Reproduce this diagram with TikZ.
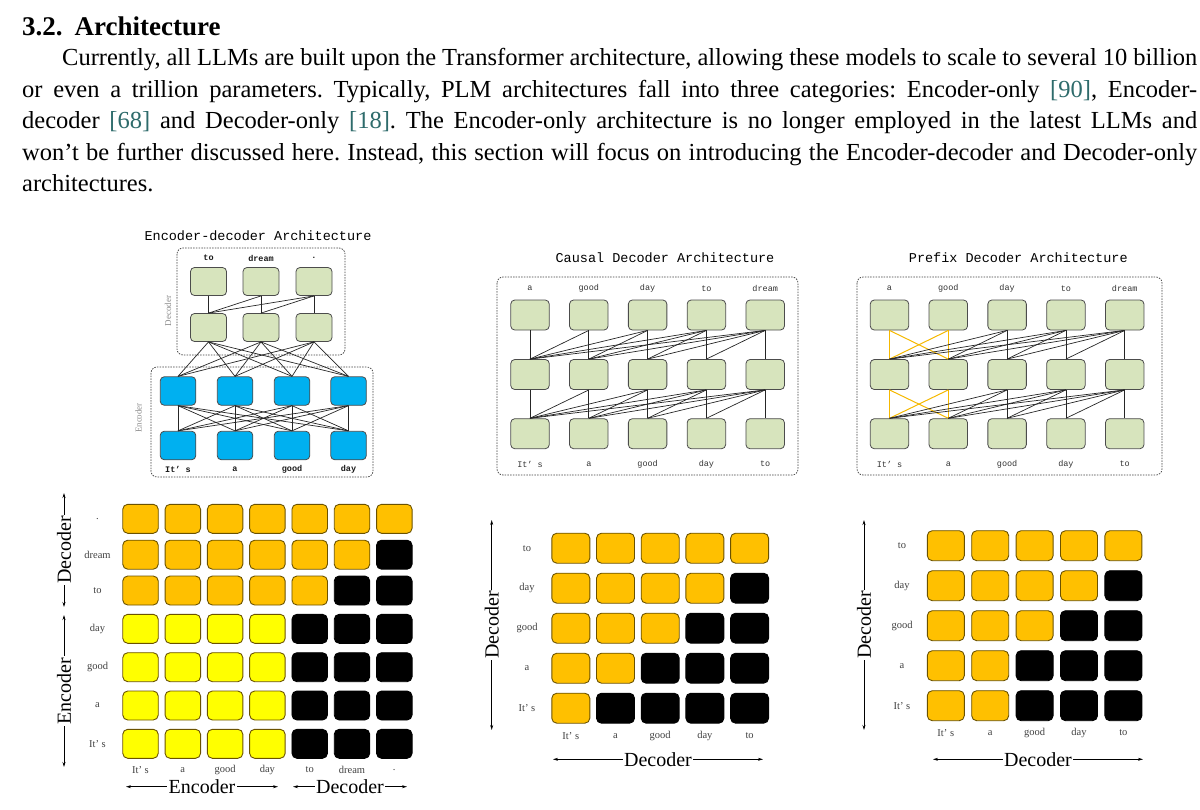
\documentclass[tikz,border=0pt]{standalone}
\usepackage{fontspec}
\setmainfont{Liberation Serif}
\newfontfamily\monofont{Liberation Mono}
\usetikzlibrary{arrows.meta}
\definecolor{citeteal}{HTML}{2E6B6B}
\definecolor{archgreen}{HTML}{D7E4BD}
\definecolor{encblue}{HTML}{00B0F0}
\definecolor{decorange}{HTML}{FFC000}
\definecolor{encyellow}{HTML}{FFFF00}
\definecolor{celledge}{HTML}{6B5200}
\definecolor{prefixline}{HTML}{F5B800}
\newcommand{\cit}[1]{\textcolor{citeteal}{[#1]}}
\frenchspacing

\begin{document}
\begin{tikzpicture}[x=1pt, y=-1pt, every node/.style={inner sep=0pt},
    bodytext/.style={anchor=base west, font=\fontsize{24.5}{31}\selectfont},
    archtitle/.style={font=\monofont\fontsize{13.5}{15}\selectfont},
    word/.style={font=\monofont\fontsize{8.5}{10}\selectfont, text=black!80},
    edword/.style={word, font=\monofont\bfseries\fontsize{8.5}{10}\selectfont, text=black!90},
    sidelabel/.style={rotate=90, font=\fontsize{9}{10}\selectfont, text=black!45},
    frame/.style={draw=black!75, line width=0.7pt, dash pattern=on 1.5pt off 1.2pt, rounded corners=6pt},
    archbox/.style={draw=black!70, line width=0.8pt, rounded corners=4pt, fill=archgreen, minimum width=38.5pt, minimum height=30pt},
    encbox/.style={archbox, fill=encblue, minimum width=35.5pt, minimum height=28.5pt},
    link/.style={draw=black!85, line width=0.7pt},
    prefixlink/.style={draw=prefixline, line width=1pt},
    cell/.style={line width=0.9pt, rounded corners=5pt},
    tick/.style={font=\fontsize{10.5}{12}\selectfont, text=black!75},
    axisarrow/.style={{Stealth[length=5pt, width=3pt]}-{Stealth[length=5pt, width=3pt]}, line width=0.8pt},
    axislabel/.style={fill=white, inner sep=1.5pt, font=\fontsize{20}{22}\selectfont}]
  \useasboundingbox (0,0) rectangle (1200,809);

  % section text
  \node[anchor=base west, font=\fontsize{27}{30}\selectfont\bfseries] (heading) at (22,35.5) {3.2.\hspace{12pt}Architecture};
  \node[bodytext] (line1) at (62,65.5) {\makebox[1135pt][s]{Currently, all LLMs are built upon the Transformer architecture, allowing these models to scale to several 10 billion}};
  \node[bodytext] (line2) at (22,97) {\makebox[1175pt][s]{or even a trillion parameters. Typically, PLM architectures fall into three categories: Encoder-only \cit{90}, Encoder-}};
  \node[bodytext] (line3) at (22,128.5) {\makebox[1175pt][s]{decoder \cit{68} and Decoder-only \cit{18}. The Encoder-only architecture is no longer employed in the latest LLMs and}};
  \node[bodytext] (line4) at (22,160) {\makebox[1175pt][s]{won’t be further discussed here. Instead, this section will focus on introducing the Encoder-decoder and Decoder-only}};
  \node[bodytext] (line5) at (22,191.5) {architectures.};

  % encoder-decoder architecture
  \node[archtitle] (edtitle) at (258,236) {Encoder-decoder Architecture};
  \draw[frame] (177,248) rectangle (345,355);
  \draw[frame] (151,367) rectangle (373,477);
  \node[sidelabel] (declabel) at (168,311) {Decoder};
  \node[sidelabel] (enclabel) at (138.5,418) {Encoder};
  \foreach \x/\w [count=\i] in {208.5/to, 261/dream, 314/.} {
    \node[archbox, minimum width=36pt, minimum height=28pt] (dt\i) at (\x,281.5) {};
    \node[archbox, minimum width=36pt, minimum height=28pt] (db\i) at (\x,327.5) {};
    \node[edword] (dw\i) at (\x,258) {\w};
  }
  \foreach \x/\w [count=\i] in {178/It’ s, 235/a, 292/good, 348.5/day} {
    \node[encbox] (et\i) at (\x,391) {};
    \node[encbox] (eb\i) at (\x,445.5) {};
    \node[edword] (ew\i) at (\x,469) {\w};
  }
  \foreach \i in {1,2,3}
    \foreach \j in {1,...,\i}
      \draw[link] (dt\i.south) -- (db\j.north);
  \foreach \i in {1,2,3}
    \foreach \j in {1,...,4}
      \draw[link] (db\i.south) -- (et\j.north);
  \foreach \i in {1,...,4}
    \foreach \j in {1,...,4}
      \draw[link] (et\i.south) -- (eb\j.north);

  % causal decoder architecture
  \node[archtitle] (cdtitle) at (665,257.7) {Causal Decoder Architecture};
  \draw[frame] (497,277) rectangle (798,475);
  \foreach \x/\t/\b [count=\i] in {530/a/It’ s, 588.8/good/a, 647.6/day/good, 706.4/to/day, 765.2/dream/to} {
    \node[archbox] (ca\i) at (\x,315) {};
    \node[archbox] (cb\i) at (\x,374.5) {};
    \node[archbox] (cc\i) at (\x,433.7) {};
    \node[word] (cat\i) at (\x,288.5) {\t};
    \node[word] (cab\i) at (\x,464) {\b};
  }
  \foreach \i in {1,...,5}
    \foreach \j in {1,...,\i} {
      \draw[link] (ca\i.south) -- (cb\j.north);
      \draw[link] (cb\i.south) -- (cc\j.north);
    }

  % prefix decoder architecture
  \node[archtitle] (pdtitle) at (1018.3,257.7) {Prefix Decoder Architecture};
  \draw[frame] (857,277) rectangle (1162,475);
  \foreach \x/\t/\b [count=\i] in {889.5/a/It’ s, 948.3/good/a, 1007.1/day/good, 1065.9/to/day, 1124.7/dream/to} {
    \node[archbox] (pa\i) at (\x,315) {};
    \node[archbox] (pb\i) at (\x,374.5) {};
    \node[archbox] (pc\i) at (\x,433.7) {};
    \node[word] (pat\i) at (\x,288.5) {\t};
    \node[word] (pab\i) at (\x,464) {\b};
  }
  \foreach \i in {1,2}
    \foreach \j in {1,2} {
      \draw[prefixlink] (pa\i.south) -- (pb\j.north);
      \draw[prefixlink] (pb\i.south) -- (pc\j.north);
    }
  \foreach \i in {3,4,5}
    \foreach \j in {1,...,\i} {
      \draw[link] (pa\i.south) -- (pb\j.north);
      \draw[link] (pb\i.south) -- (pc\j.north);
    }

  % encoder-decoder attention mask
  \foreach \y/\w [count=\row] in {743.8/It’ s, 705.5/a, 667.2/good, 628.8/day, 590.5/to, 554.7/dream, 518.8/.} {
    \node[tick] (ma\row) at (97.5,\y) {\w};
    \foreach \x [count=\col] in {140.5,182.8,225.1,267.4,309.7,352,394.3} {
      \ifnum\row<5
        \ifnum\col<5 \def\cf{encyellow}\def\ce{celledge}\else\def\cf{black}\def\ce{black}\fi
      \else
        \ifnum\col>\row \def\cf{black}\def\ce{black}\else\def\cf{decorange}\def\ce{celledge}\fi
      \fi
      \node[cell, fill=\cf, draw=\ce, minimum width=35.5pt, minimum height=29pt] (ma\row-\col) at (\x,\y) {};
    }
  }
  \foreach \x/\w [count=\col] in {140.5/It’ s, 182.8/a, 225.1/good, 267.4/day, 309.7/to, 352/dream, 394.3/.}
    \node[tick] (mac\col) at (\x,770) {\w};
  \coordinate (maxa) at (126,786.7);
  \coordinate (maxb) at (278,786.7);
  \coordinate (maxc) at (293,786.7);
  \coordinate (maxd) at (407,786.7);
  \draw[axisarrow] (maxa) -- (maxb) node[axislabel, midway] (maxenc) {Encoder};
  \draw[axisarrow] (maxc) -- (maxd) node[axislabel, midway] (maxdec) {Decoder};
  \coordinate (maya) at (64,493);
  \coordinate (mayb) at (64,607);
  \coordinate (mayc) at (64,615);
  \coordinate (mayd) at (64,767);
  \draw[axisarrow] (maya) -- (mayb) node[axislabel, midway, rotate=90] (maydec) {Decoder};
  \draw[axisarrow] (mayc) -- (mayd) node[axislabel, midway, rotate=90] (mayenc) {Encoder};

  % causal decoder attention mask
  \foreach \w [count=\row] in {It’ s, a, good, day, to} {
    \node[tick] (mb\row) at (527,748.2-40*\row) {\w};
    \foreach \x [count=\col] in {570.8,615.5,660.2,704.9,749.6} {
      \ifnum\col>\row \def\cf{black}\def\ce{black}\else\def\cf{decorange}\def\ce{celledge}\fi
      \node[cell, fill=\cf, draw=\ce, minimum width=38pt, minimum height=30pt] (mb\row-\col) at (\x,748.2-40*\row) {};
    }
  }
  \foreach \x/\w [count=\col] in {570.8/It’ s, 615.5/a, 660.2/good, 704.9/day, 749.6/to}
    \node[tick] (mbc\col) at (\x,736) {\w};
  \coordinate (mbxa) at (553,759.3);
  \coordinate (mbxb) at (763,759.3);
  \coordinate (mbya) at (491.7,520);
  \coordinate (mbyb) at (491.7,730);
  \draw[axisarrow] (mbxa) -- (mbxb) node[axislabel, midway] (mbxdec) {Decoder};
  \draw[axisarrow] (mbya) -- (mbyb) node[axislabel, midway, rotate=90] (mbydec) {Decoder};

  % prefix decoder attention mask
  \foreach \w [count=\row] in {It’ s, a, good, day, to} {
    \node[tick] (mc\row) at (902,745.7-40*\row) {\w};
    \foreach \x [count=\col] in {945.8,990.2,1034.6,1079,1123.4} {
      \ifnum\row<2 \def\lim{2}\else\edef\lim{\row}\fi
      \ifnum\col>\lim \def\cf{black}\def\ce{black}\else\def\cf{decorange}\def\ce{celledge}\fi
      \node[cell, fill=\cf, draw=\ce, minimum width=37pt, minimum height=30pt] (mc\row-\col) at (\x,745.7-40*\row) {};
    }
  }
  \foreach \x/\w [count=\col] in {945.8/It’ s, 990.2/a, 1034.6/good, 1079/day, 1123.4/to}
    \node[tick] (mcc\col) at (\x,732.7) {\w};
  \coordinate (mcxa) at (933,759.3);
  \coordinate (mcxb) at (1143,759.3);
  \coordinate (mcya) at (864,520);
  \coordinate (mcyb) at (864,730);
  \draw[axisarrow] (mcxa) -- (mcxb) node[axislabel, midway] (mcxdec) {Decoder};
  \draw[axisarrow] (mcya) -- (mcyb) node[axislabel, midway, rotate=90] (mcydec) {Decoder};
\end{tikzpicture}
\end{document}
